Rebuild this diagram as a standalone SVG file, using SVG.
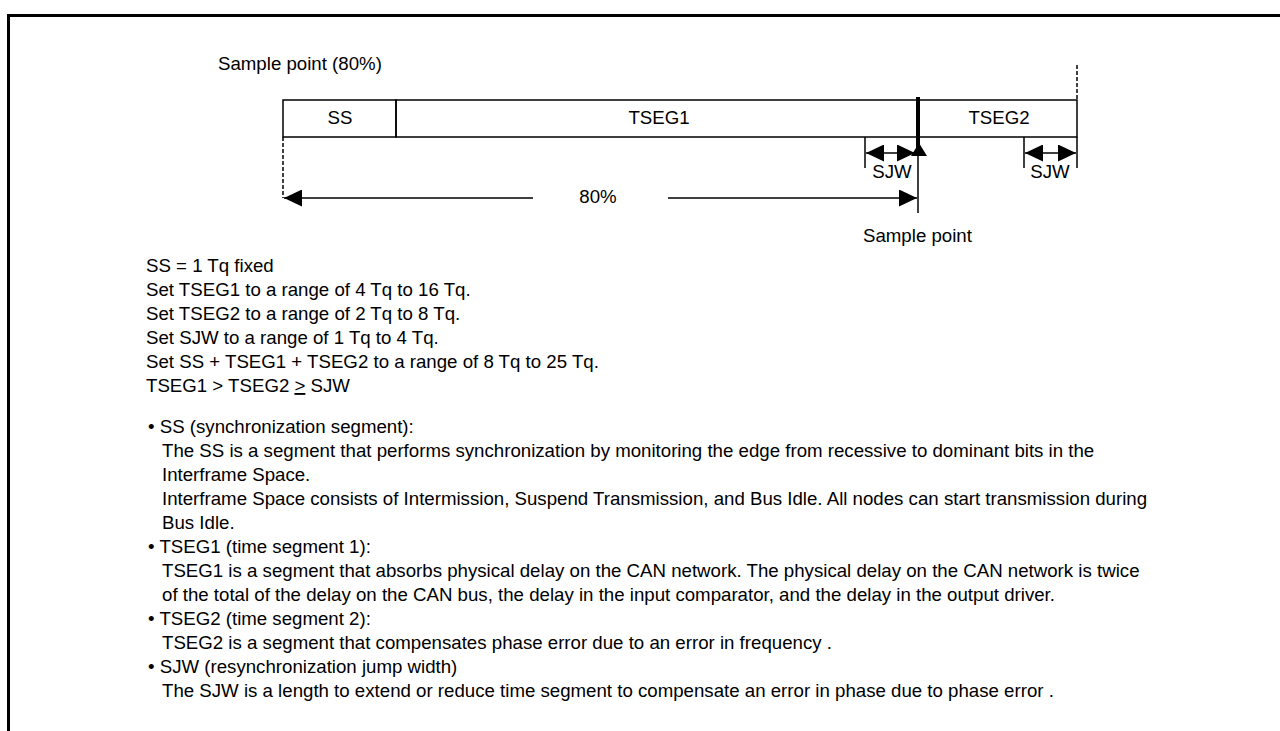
<svg xmlns="http://www.w3.org/2000/svg" width="1280" height="731" viewBox="0 0 1280 731">
<defs>
<style>
text{font-family:"Liberation Sans",Arial,sans-serif;font-size:18.67px;fill:#000}
.c{text-anchor:middle}
.ln{stroke:#000;stroke-width:1.5;fill:none}
.dash{stroke:#000;stroke-width:1.5;fill:none;stroke-dasharray:4,2}
</style>
<marker id="ah" markerWidth="18" markerHeight="17" refX="18" refY="8.5" orient="auto-start-reverse" markerUnits="userSpaceOnUse">
<path d="M0,0 L18,8.5 L0,17 Z" fill="#000"/>
</marker>
</defs>
<rect width="1280" height="731" fill="#fff"/>
<path d="M8.5,731 V15.5 H1280" stroke="#000" stroke-width="3" fill="none"/>
<text x="218" y="70">Sample point (80%)</text>
<g id="ss"><rect x="283" y="100" width="113" height="37" class="ln"/><text class="c" x="340" y="124">SS</text></g>
<g id="tseg1"><rect x="396" y="100" width="522" height="37" class="ln"/><text class="c" x="659" y="124">TSEG1</text></g>
<g id="tseg2"><rect x="918" y="100" width="159" height="37" class="ln"/><text class="c" x="999" y="124">TSEG2</text></g>
<g id="connectors">
<line x1="918" y1="97" x2="918" y2="148" stroke="#000" stroke-width="4"/>
<path d="M919,143 L927,156 L911,156 Z" fill="#000"/>
<line x1="918" y1="150" x2="918" y2="213" class="ln"/>
<line x1="1077" y1="65" x2="1077" y2="100" class="dash"/>
<line x1="283" y1="137" x2="283" y2="198" class="dash"/>
<line x1="865" y1="137" x2="865" y2="168" class="ln"/>
<line x1="866" y1="153" x2="915" y2="153" class="ln" marker-start="url(#ah)" marker-end="url(#ah)"/>
<line x1="1024" y1="137" x2="1024" y2="168" class="ln"/>
<line x1="1077" y1="137" x2="1077" y2="168" class="ln"/>
<line x1="1025" y1="153" x2="1076" y2="153" class="ln" marker-start="url(#ah)" marker-end="url(#ah)"/>
<line x1="284" y1="198" x2="533" y2="198" class="ln" marker-start="url(#ah)"/>
<line x1="668" y1="198" x2="917" y2="198" class="ln" marker-end="url(#ah)"/>
</g>
<text class="c" x="892" y="178">SJW</text>
<text class="c" x="1050" y="178">SJW</text>
<text class="c" x="598" y="203">80%</text>
<text x="863" y="242">Sample point</text>
<text x="146" y="272">SS = 1 Tq fixed</text>
<text x="146" y="296">Set TSEG1 to a range of 4 Tq to 16 Tq.</text>
<text x="146" y="320">Set TSEG2 to a range of 2 Tq to 8 Tq.</text>
<text x="146" y="344">Set SJW to a range of 1 Tq to 4 Tq.</text>
<text x="146" y="368">Set SS + TSEG1 + TSEG2 to a range of 8 Tq to 25 Tq.</text>
<text x="146" y="392">TSEG1 &gt; TSEG2 <tspan text-decoration="underline">&gt;</tspan> SJW</text>
<text x="148" y="433">• SS (synchronization segment):</text>
<text x="162" y="457">The SS is a segment that performs synchronization by monitoring the edge from recessive to dominant bits in the</text>
<text x="162" y="481">Interframe Space.</text>
<text x="162" y="505">Interframe Space consists of Intermission, Suspend Transmission, and Bus Idle. All nodes can start transmission during</text>
<text x="162" y="529">Bus Idle.</text>
<text x="148" y="553">• TSEG1 (time segment 1):</text>
<text x="162" y="577">TSEG1 is a segment that absorbs physical delay on the CAN network. The physical delay on the CAN network is twice</text>
<text x="162" y="601">of the total of the delay on the CAN bus, the delay in the input comparator, and the delay in the output driver.</text>
<text x="148" y="625">• TSEG2 (time segment 2):</text>
<text x="162" y="649">TSEG2 is a segment that compensates phase error due to an error in frequency .</text>
<text x="148" y="673">• SJW (resynchronization jump width)</text>
<text x="162" y="697">The SJW is a length to extend or reduce time segment to compensate an error in phase due to phase error .</text>
</svg>
